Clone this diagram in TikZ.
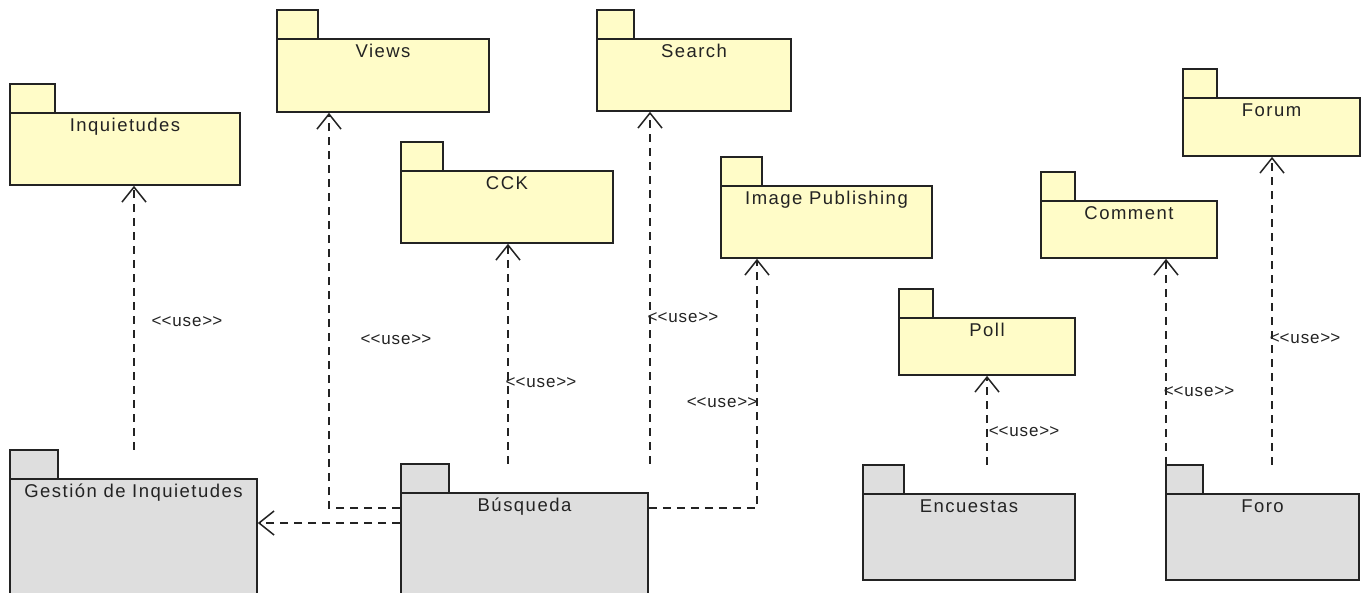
\documentclass[tikz,border=0pt]{standalone}
\usepackage{fontspec}
\setmainfont{Liberation Sans}
\newfontfamily\pkgfont[LetterSpace=8]{Liberation Sans}
\newfontfamily\uselblfont[LetterSpace=5]{Liberation Sans}
\usetikzlibrary{arrows.meta,fit}
\definecolor{pkgyellow}{RGB}{255,252,200}
\definecolor{pkggray}{RGB}{222,222,222}
\definecolor{ink}{RGB}{35,35,35}
\tikzset{
  pkgline/.style={draw=ink, line width=1.7pt},
  tabbox/.style={pkgline, inner sep=0pt},
  bodybox/.style={pkgline, inner sep=0pt},
  frame/.style={inner sep=0pt},
  pkglabel/.style={anchor=base, inner sep=0pt, font=\pkgfont\fontsize{18.5}{20}\selectfont, text=ink},
  uselabel/.style={inner sep=0pt, font=\uselblfont\fontsize{17}{18}\selectfont, text=ink},
  dep/.style={draw=ink, line width=1.5pt, dash pattern=on 8pt off 6pt, -{Straight Barb[length=15pt,width=24pt]}},
}
% #1 name, #2 x, #3 tab top y, #4 tab right x, #5 body right x, #6 body bottom y, #7 fill, #8 label
\newcommand\pkgdraw[8]{%
  \node[frame, fit={(#2,#3) (#5,#6)}] (#1) {};
  \node[tabbox, fill=#7, fit={(#2,#3) (#4,#3+29)}] (#1-tab) {};
  \node[bodybox, fill=#7, fit={(#2,#3+29) (#5,#6)}] (#1-body) {};
  \node[pkglabel] (#1-label) at ([yshift=-19pt]#1-body.north) {#8};
}
\newcommand\uselbl{<\kern0pt<use>\kern0pt>}
\begin{document}
\begin{tikzpicture}[x=1pt,y=-1pt]
\useasboundingbox (0,0) rectangle (1367,592);
\fill[white] (0,0) rectangle (1367,592);
\clip (0,0) rectangle (1367,592);

% packages
\pkgdraw{inq}{10}{84}{55}{240}{185}{pkgyellow}{Inquietudes}
\pkgdraw{views}{277}{10}{318}{489}{112}{pkgyellow}{Views}
\pkgdraw{search}{597}{10}{634}{791}{111}{pkgyellow}{Search}
\pkgdraw{cck}{401}{142}{443}{613}{243}{pkgyellow}{CCK}
\pkgdraw{img}{721}{157}{762}{932}{258}{pkgyellow}{Image Publishing}
\pkgdraw{forum}{1183}{69}{1217}{1360}{156}{pkgyellow}{Forum}
\pkgdraw{comment}{1041}{172}{1075}{1217}{258}{pkgyellow}{Comment}
\pkgdraw{poll}{899}{289}{933}{1075}{375}{pkgyellow}{Poll}
\pkgdraw{gest}{10}{450}{58}{257}{620}{pkggray}{Gestión de Inquietudes}
\pkgdraw{busq}{401}{464}{449}{648}{620}{pkggray}{Búsqueda}
\pkgdraw{enc}{863}{465}{904}{1075}{580}{pkggray}{Encuestas}
\pkgdraw{foro}{1166}{465}{1203}{1359}{580}{pkggray}{Foro}

% guide coordinates
\coordinate (xinq) at (134,0);
\coordinate (xviews) at (329,0);
\coordinate (xcck) at (508,0);
\coordinate (xsearch) at (650,0);
\coordinate (ximg) at (757,0);
\coordinate (xpoll) at (987,0);
\coordinate (xcomment) at (1166,0);
\coordinate (xforum) at (1272,0);
\coordinate (yup) at (0,508);
\coordinate (yleft) at (0,523);

% dependencies
\draw[dep] (gest.north -| xinq) -- (inq-body.south -| xinq);
\draw[dep] (busq-body.west |- yup) -| (views-body.south -| xviews);
\draw[dep] (busq-body.west |- yleft) -- (gest-body.east |- yleft);
\draw[dep] (busq.north -| xcck) -- (cck-body.south -| xcck);
\draw[dep] (busq.north -| xsearch) -- (search-body.south -| xsearch);
\draw[dep] (busq-body.east |- yup) -| (img-body.south -| ximg);
\draw[dep] (enc.north -| xpoll) -- (poll-body.south -| xpoll);
\draw[dep] (foro.north -| xcomment) -- (comment-body.south -| xcomment);
\draw[dep] (foro.north -| xforum) -- (forum-body.south -| xforum);

% stereotype labels
\node[uselabel] (u-inq) at (187,322) {\uselbl};
\node[uselabel] (u-views) at (396,340) {\uselbl};
\node[uselabel] (u-search) at (683,318) {\uselbl};
\node[uselabel] (u-cck) at (541,383) {\uselbl};
\node[uselabel] (u-img) at (722,403) {\uselbl};
\node[uselabel] (u-poll) at (1024,432) {\uselbl};
\node[uselabel] (u-comment) at (1199,392) {\uselbl};
\node[uselabel] (u-forum) at (1305,339) {\uselbl};
\end{tikzpicture}
\end{document}
